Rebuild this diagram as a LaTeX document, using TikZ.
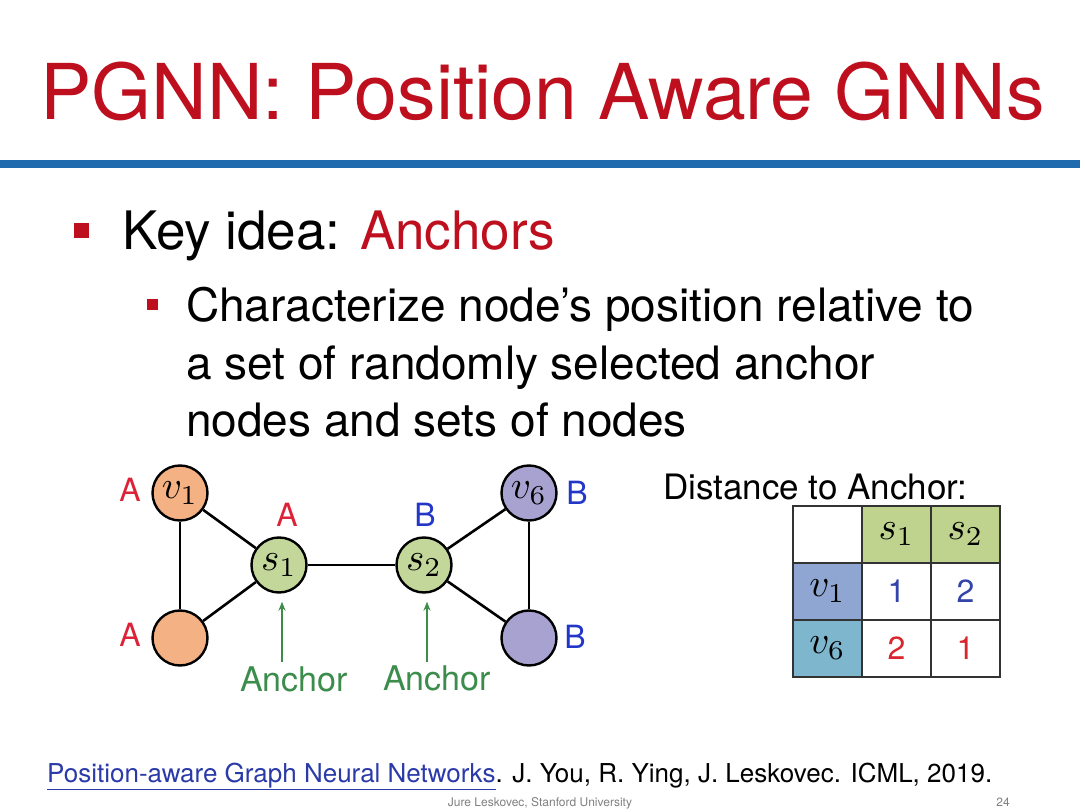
\documentclass[tikz,border=0pt]{standalone}
\usepackage{fontspec}
\setmainfont{TeX Gyre Heros}
\usetikzlibrary{arrows.meta}
\newcommand{\mymath}[1]{\scalebox{3.9}{\fontsize{10}{12}\selectfont$#1$}}
\definecolor{titlered}{HTML}{BE0F1E}
\definecolor{rulebl}{HTML}{1F6BAE}
\definecolor{labred}{HTML}{DD2238}
\definecolor{labblue}{HTML}{2236C8}
\definecolor{orangef}{HTML}{F4B183}
\definecolor{greenf}{HTML}{C4D79B}
\definecolor{purplef}{HTML}{A8A2D0}
\definecolor{anchgreen}{HTML}{3C8C4C}
\definecolor{hdrgreen}{HTML}{BFD38F}
\definecolor{v1blue}{HTML}{8EA6D1}
\definecolor{v6blue}{HTML}{7EB6CE}
\definecolor{numblue}{HTML}{3344AA}
\definecolor{numred}{HTML}{D9262E}
\definecolor{linkblue}{HTML}{2A3AA8}
\definecolor{tabline}{HTML}{333333}
\begin{document}
\begin{tikzpicture}[x=1pt,y=-1pt,
  gnode/.style={circle,draw=black,line width=2.4pt,minimum size=55pt,inner sep=0pt},
  edge/.style={line width=2.6pt,draw=black},
  lblA/.style={text=labred,inner sep=0pt,font=\fontsize{32}{32}\selectfont},
  lblB/.style={text=labblue,inner sep=0pt,font=\fontsize{32}{32}\selectfont},
  anchtxt/.style={text=anchgreen,inner sep=0pt,font=\fontsize{34}{34}\selectfont},
  ancharrow/.style={draw=anchgreen,line width=2.2pt,-{Stealth[length=9pt,width=7pt]}},
  cell/.style={draw=tabline,line width=1.8pt,minimum width=69pt,minimum height=57pt,inner sep=0pt,font=\fontsize{32}{32}\selectfont},
  bodytxt/.style={anchor=base west,inner sep=0pt},
  bulletsq/.style={fill=titlered,draw=none,inner sep=0pt}
]
\useasboundingbox (0,0) rectangle (1080,810);
\fill[white] (0,0) rectangle (1080,810);

% title
\node[bodytxt,text=titlered,font=\fontsize{77}{77}\selectfont] (title) at (40,120) {PGNN: Position Aware GNNs};
\fill[rulebl] (0,160) rectangle (1080,168);

% bullets
\node[bulletsq,minimum size=15pt] (b1) at (81,231) {};
\node[bodytxt,font=\fontsize{53}{53}\selectfont] (key) at (122,250) {Key idea: \textcolor{titlered}{Anchors}};
\node[bulletsq,minimum size=11pt] (b2) at (152,305) {};
\node[bodytxt,font=\fontsize{46}{46}\selectfont] (l1) at (186,322) {Characterize node’s position relative to};
\node[bodytxt,font=\fontsize{46}{46}\selectfont] (l2) at (186,380) {a set of randomly selected anchor};
\node[bodytxt,font=\fontsize{46}{46}\selectfont] (l3) at (186,437) {nodes and sets of nodes};

% graph
\node[gnode,fill=orangef] (v1) at (180,493) {\mymath{v_1}};
\node[gnode,fill=orangef] (a2) at (180,638) {};
\node[gnode,fill=greenf] (s1) at (279,565) {\mymath{s_1}};
\node[gnode,fill=greenf] (s2) at (424,565) {\mymath{s_2}};
\node[gnode,fill=purplef] (v6) at (529,493) {\mymath{v_6}};
\node[gnode,fill=purplef] (b6) at (529,638) {};
\draw[edge] (v1) -- (a2);
\draw[edge] (v1) -- (s1);
\draw[edge] (a2) -- (s1);
\draw[edge] (s1) -- (s2);
\draw[edge] (s2) -- (v6);
\draw[edge] (s2) -- (b6);
\draw[edge] (v6) -- (b6);

\node[lblA] (la1) at (130,490) {A};
\node[lblA] (la2) at (130,635) {A};
\node[lblA] (la3) at (287,515) {A};
\node[lblB] (lb1) at (425,515) {B};
\node[lblB] (lb2) at (577,493) {B};
\node[lblB] (lb3) at (575,637) {B};

\node[anchtxt] (an1) at (294,679) {Anchor};
\node[anchtxt] (an2) at (437,678) {Anchor};
\coordinate (an1top) at (282,662);
\coordinate (an2top) at (427,662);
\draw[ancharrow] (an1top) -- ([yshift=-8pt]s1.south -| an1top);
\draw[ancharrow] (an2top) -- ([yshift=-8pt]s2.south -| an2top);

% table
\node[bodytxt,font=\fontsize{35}{35}\selectfont] (dist) at (663,500) {Distance to Anchor:};
\node[cell,fill=white] (c00) at (827.5,534.5) {};
\node[cell,fill=hdrgreen] (c01) at (896.5,534.5) {\mymath{s_1}};
\node[cell,fill=hdrgreen] (c02) at (965.5,534.5) {\mymath{s_2}};
\node[cell,fill=v1blue] (c10) at (827.5,591.5) {\mymath{v_1}};
\node[cell,fill=white,text=numblue] (c11) at (896.5,591.5) {1};
\node[cell,fill=white,text=numblue] (c12) at (965.5,591.5) {2};
\node[cell,fill=v6blue] (c20) at (827.5,648.5) {\mymath{v_6}};
\node[cell,fill=white,text=numred] (c21) at (896.5,648.5) {2};
\node[cell,fill=white,text=numred] (c22) at (965.5,648.5) {1};

% footer
\node[bodytxt,font=\fontsize{26}{26}\selectfont] (ref) at (47,782) {\textcolor{linkblue}{\underline{Position-aware Graph Neural Networks}}. J. You, R. Ying, J. Leskovec. ICML, 2019.};
\node[anchor=base,inner sep=0pt,text=gray,font=\fontsize{12}{12}\selectfont] (auth) at (540,806) {Jure Leskovec, Stanford University};
\node[anchor=base,inner sep=0pt,text=gray,font=\fontsize{12}{12}\selectfont] (pg) at (1003,806) {24};
\end{tikzpicture}
\end{document}
